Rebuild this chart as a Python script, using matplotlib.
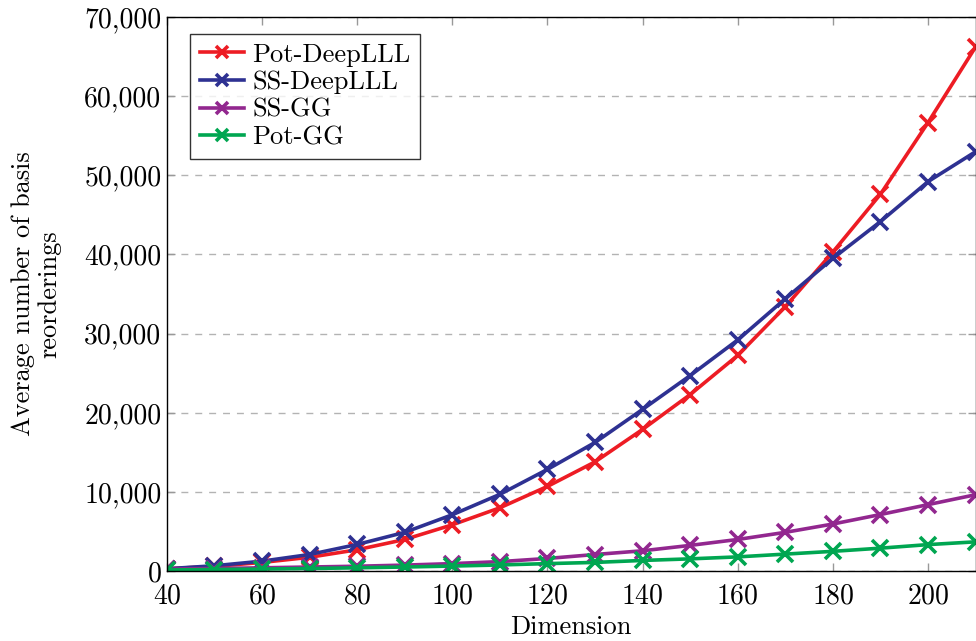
import matplotlib
matplotlib.use("Agg")
import matplotlib.pyplot as plt
from matplotlib.ticker import FuncFormatter, MultipleLocator

plt.rcParams["font.family"] = ["cmr10", "DejaVu Serif"]
plt.rcParams["axes.formatter.use_mathtext"] = True

dimension = [40, 50, 60, 70, 80, 90, 100, 110, 120, 130, 140, 150, 160, 170, 180, 190, 200, 210]

pot_deeplll = [300, 600, 1100, 1750, 2700, 4000, 5850, 8000, 10700, 13800, 17900, 22300,
               27250, 33400, 40300, 47600, 56650, 66200]
ss_deeplll = [300, 680, 1260, 2100, 3370, 4900, 7120, 9700, 12850, 16250, 20430, 24700,
              29200, 34400, 39500, 44150, 49200, 52980]
ss_gg = [250, 330, 420, 520, 620, 760, 950, 1200, 1600, 2100, 2570, 3250,
         4000, 4900, 5950, 7150, 8400, 9650]
pot_gg = [150, 200, 260, 330, 420, 520, 640, 780, 950, 1100, 1350, 1550,
          1800, 2150, 2500, 2900, 3350, 3700]

series = [
    ("Pot-DeepLLL", pot_deeplll, "#ED1C24"),
    ("SS-DeepLLL", ss_deeplll, "#2E3192"),
    ("SS-GG", ss_gg, "#92278F"),
    ("Pot-GG", pot_gg, "#00A651"),
]

fig = plt.figure(figsize=(9.76, 6.41), dpi=100)
ax = fig.add_axes([0.171, 0.109, 0.8285, 0.8645])

for name, vals, color in series:
    ax.plot(dimension, vals, color=color, lw=2.6, marker="x", ms=11, mew=2.6, label=name)

ax.set_xlim(40, 210)
ax.set_ylim(0, 70000)
ax.xaxis.set_major_locator(MultipleLocator(20))
ax.yaxis.set_major_locator(MultipleLocator(10000))
ax.yaxis.set_major_formatter(FuncFormatter(lambda v, p: f"{int(v):,}"))

ax.grid(axis="y", color="#b3b3b3", ls=(0, (5, 5)), lw=1.0)
ax.set_axisbelow(True)
ax.tick_params(direction="in", length=6, width=1.0, color="#999999",
               top=True, right=True, labelsize=20, pad=4)
ax.tick_params(axis="x", pad=9)
for sp in ax.spines.values():
    sp.set_linewidth(1.0)

ax.set_xlabel("Dimension", fontsize=19, labelpad=4)
ax.set_ylabel("Average number of basis\nreorderings", fontsize=19,
              linespacing=1.15)
ax.yaxis.set_label_coords(-0.13, 0.5)

leg = ax.legend(loc="upper left", bbox_to_anchor=(0.029, 0.97), fontsize=19,
                frameon=True, fancybox=False, edgecolor="black", borderpad=0.35,
                handlelength=1.7, labelspacing=0.15, handletextpad=0.3,
                markerscale=0.75, borderaxespad=0)
leg.get_frame().set_linewidth(1.0)

fig.savefig("out.png", dpi=100)
